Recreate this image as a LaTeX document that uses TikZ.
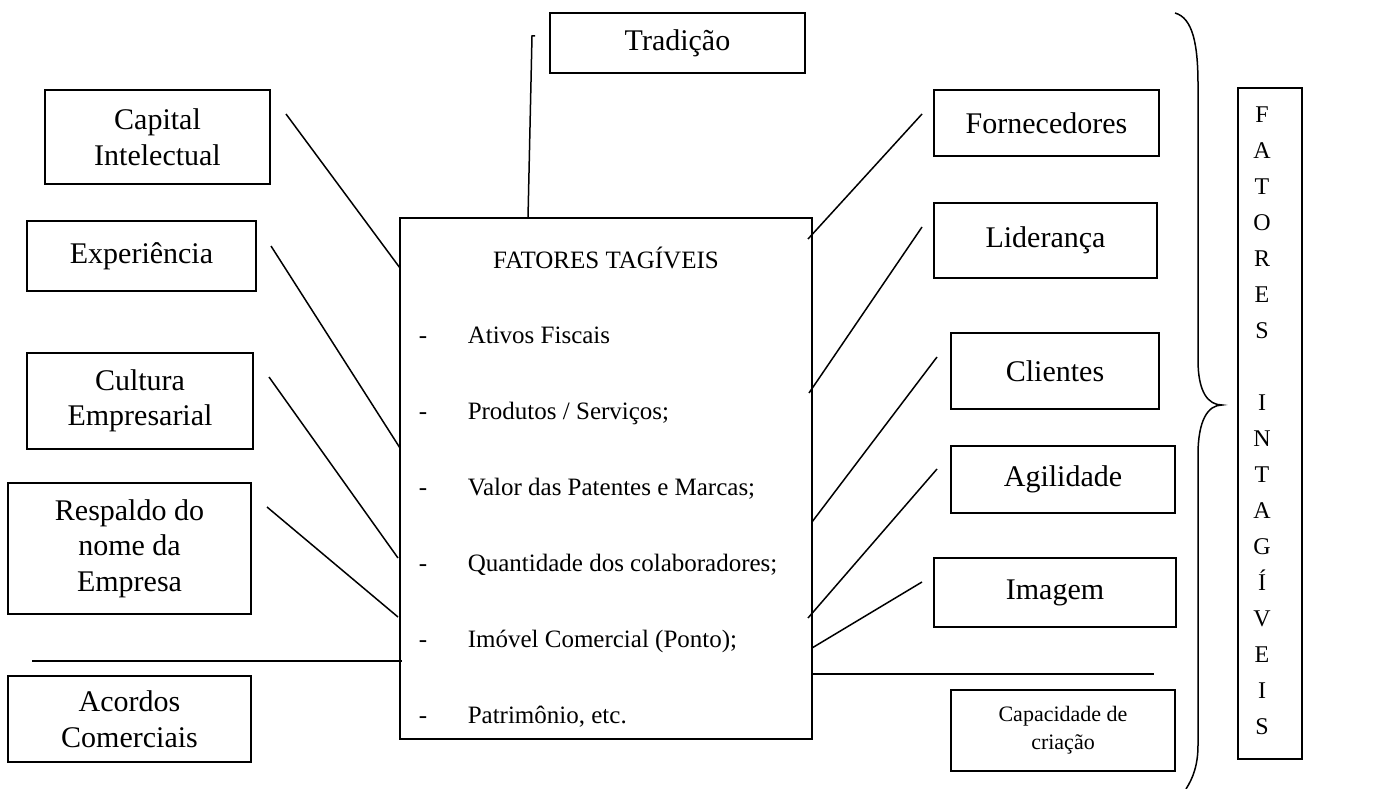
\documentclass[tikz,border=0pt]{standalone}
\usepackage{fontspec}
\setmainfont{Liberation Serif}

\begin{document}
\begin{tikzpicture}[x=1pt, y=-1pt, line width=1.5pt,
  box/.style={draw, line width=1.8pt, inner sep=0pt, align=center, font=\fontsize{30}{35.5}\selectfont},
  item/.style={anchor=base west, inner sep=0pt, font=\fontsize{25}{30}\selectfont}]
  \useasboundingbox (0,0) rectangle (1392,789);

  \node[box, minimum width=255pt, minimum height=60pt] (trad) at (677.5,43) {Tradição};
  \node[box, minimum width=225pt, minimum height=94pt] (cap) at (157.5,137) {Capital\\Intelectual};
  \node[box, minimum width=229pt, minimum height=70pt] (exp) at (141.5,256) {Experiência};
  \node[box, minimum width=226pt, minimum height=96pt] (cult) at (140,401) {Cultura\\Empresarial};
  \node[box, minimum width=243pt, minimum height=131pt] (resp) at (129.5,548.5) {Respaldo do\\nome da\\Empresa};
  \node[box, minimum width=243pt, minimum height=86pt] (acord) at (129.5,719) {Acordos\\Comerciais};
  \node[box, minimum width=412pt, minimum height=521pt] (tang) at (606,478.5) {};
  \node[box, minimum width=225pt, minimum height=66pt] (forn) at (1046.5,123) {Fornecedores};
  \node[box, minimum width=223pt, minimum height=75pt] (lid) at (1045.5,240.5) {Liderança};
  \node[box, minimum width=208pt, minimum height=76pt] (cli) at (1055,371) {Clientes};
  \node[box, minimum width=224pt, minimum height=67pt] (agil) at (1063,479.5) {Agilidade};
  \node[box, minimum width=242pt, minimum height=69pt] (imag) at (1055,592.5) {Imagem};
  \node[box, minimum width=224pt, minimum height=81pt, font=\fontsize{22}{28}\selectfont] (criac) at (1063,730.5) {Capacidade de\\criação};
  \node[box, minimum width=64pt, minimum height=671pt] (intag) at (1270,423.5) {};
  \node[inner sep=0pt, align=center, font=\fontsize{24}{36}\selectfont] (intagtxt) at (1262,421)
    {F\\A\\T\\O\\R\\E\\S\\[36pt]I\\N\\T\\A\\G\\Í\\V\\E\\I\\S};

  \node[item, anchor=base] (tit) at (606,268) {FATORES TAGÍVEIS};
  \foreach \txt [count=\k from 0] in {Ativos Fiscais, Produtos / Serviços;, Valor das Patentes e Marcas;,
      Quantidade dos colaboradores;, Imóvel Comercial (Ponto);, {Patrimônio, etc.}} {
    \node[item, anchor=base] (dash\k) at (423,343+76*\k) {-};
    \node[item] (it\k) at (467,343+76*\k) {\txt};
  }

  \coordinate (tradA) at (535,36);
  \coordinate (tradB) at (532,36);
  \coordinate (tradC) at (528,218);
  \draw (tradA) -- (tradB) -- (tradC);

  \coordinate (capA) at (286,114);
  \coordinate (capB) at (400,268);
  \coordinate (expA) at (271,246);
  \coordinate (expB) at (400,448);
  \coordinate (cultA) at (269,377);
  \coordinate (cultB) at (398,558);
  \coordinate (respA) at (267,507);
  \coordinate (respB) at (398,617);
  \coordinate (horL) at (32,661);
  \coordinate (horLB) at (402,661);
  \draw (capA) -- (capB);
  \draw (expA) -- (expB);
  \draw (cultA) -- (cultB);
  \draw (respA) -- (respB);
  \draw (horL) -- (horLB);

  \coordinate (fornA) at (922,114);
  \coordinate (fornB) at (808,239);
  \coordinate (lidA) at (922,227);
  \coordinate (lidB) at (809,393);
  \coordinate (cliA) at (937,357);
  \coordinate (cliB) at (812,522);
  \coordinate (agilA) at (937,469);
  \coordinate (agilB) at (808,618);
  \coordinate (imagA) at (922,582);
  \coordinate (imagB) at (812,648);
  \coordinate (horR) at (812,674);
  \coordinate (horRB) at (1154,674);
  \draw (fornA) -- (fornB);
  \draw (lidA) -- (lidB);
  \draw (cliA) -- (cliB);
  \draw (agilA) -- (agilB);
  \draw (imagA) -- (imagB);
  \draw (horR) -- (horRB);

  \draw (1175,13) .. controls (1193,18) and (1198,45) .. (1198,85) -- (1198,360)
    .. controls (1198,392) and (1208,405) .. (1222,405)
    .. controls (1208,405) and (1198,420) .. (1198,455) -- (1198,745)
    .. controls (1198,765) and (1193,778) .. (1186,789);
\end{tikzpicture}
\end{document}
